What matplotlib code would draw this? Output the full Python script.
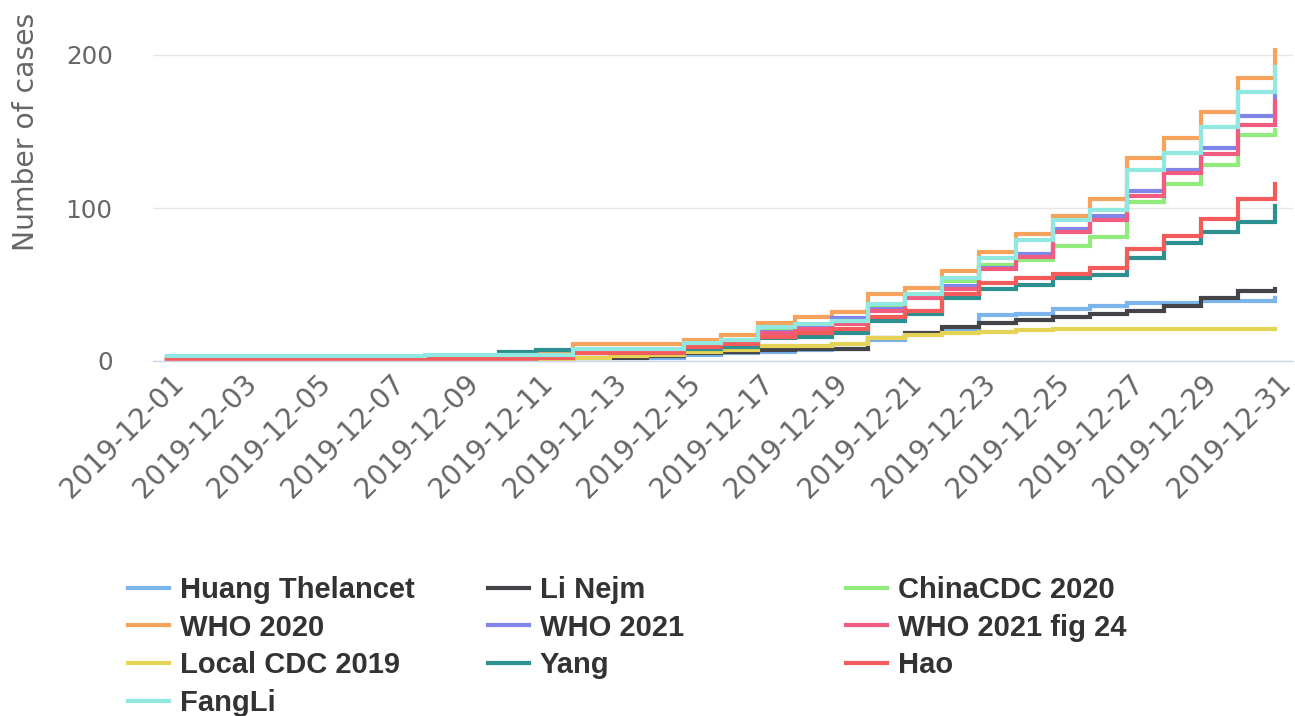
import matplotlib
matplotlib.use("Agg")
import matplotlib.pyplot as plt
import matplotlib.dates as mdates
from matplotlib.lines import Line2D
from matplotlib.transforms import ScaledTranslation
import numpy as np

# daily cumulative cases, 2019-12-01 .. 2019-12-31
days = np.arange(np.datetime64("2019-12-01"), np.datetime64("2020-01-01"))

huang_thelancet = [1, 1, 1, 1, 1, 1, 1, 1, 1, 2, 2, 2, 2, 2,
                   4, 5, 6, 7, 8, 14, 17, 21, 30, 31, 34, 36, 38, 38, 39, 39, 41]
li_nejm = [1, 1, 1, 1, 1, 1, 1, 2, 2, 2, 2, 2, 2, 3,
           5, 6, 7, 8, 8, 15, 18, 22, 25, 27, 29, 31, 33, 36, 41, 46, 47]
chinacdc_2020 = [2, 2, 2, 2, 2, 2, 2, 2, 2, 3, 3, 7, 7, 7,
                 11, 13, 21, 23, 25, 35, 43, 52, 63, 66, 75, 81, 104, 116, 128, 148, 151]
who_2020 = [2, 2, 2, 2, 2, 2, 2, 3, 3, 4, 5, 11, 11, 11,
            14, 17, 25, 29, 32, 44, 48, 59, 71, 83, 95, 106, 133, 146, 163, 185, 203]
who_2021 = [2, 2, 2, 2, 2, 2, 2, 2, 2, 3, 3, 7, 7, 7,
            10, 12, 19, 22, 28, 34, 42, 49, 61, 70, 86, 95, 111, 125, 139, 160, 174]
who_2021_fig24 = [2, 2, 2, 2, 2, 2, 2, 2, 2, 3, 3, 6, 6, 6,
                  9, 11, 18, 21, 24, 33, 41, 47, 60, 68, 84, 92, 108, 123, 135, 154, 170]
local_cdc_2019 = [1, 1, 1, 1, 1, 1, 1, 1, 1, 1, 1, 2, 3, 4,
                  6, 7, 10, 10, 11, 15, 17, 18, 19, 20, 21, 21, 21, 21, 21, 21, 21]
yang = [2, 2, 2, 2, 2, 2, 2, 2, 2, 6, 7, 7, 7, 7,
        8, 9, 15, 16, 18, 26, 31, 41, 47, 50, 54, 56, 67, 77, 84, 91, 101]
hao = [1, 1, 1, 1, 1, 1, 1, 1, 1, 1, 2, 5, 5, 5,
       9, 11, 16, 18, 21, 29, 33, 44, 51, 54, 57, 61, 73, 82, 93, 106, 116]
fangli = [3, 3, 3, 3, 3, 3, 3, 4, 4, 4, 4, 8, 8, 8,
          12, 14, 22, 24, 26, 37, 44, 54, 67, 79, 92, 99, 125, 136, 153, 176, 192]

names = ["Huang Thelancet", "Li Nejm", "ChinaCDC 2020", "WHO 2020", "WHO 2021",
         "WHO 2021 fig 24", "Local CDC 2019", "Yang", "Hao", "FangLi"]
series = [huang_thelancet, li_nejm, chinacdc_2020, who_2020, who_2021,
          who_2021_fig24, local_cdc_2019, yang, hao, fangli]
colors = ["#7cb5ec", "#434348", "#90ed7d", "#f7a35c", "#8085e9",
          "#f15c80", "#e4d354", "#2b908f", "#f45b5b", "#91e8e1"]

W, H = 1295, 716
fig = plt.figure(figsize=(W / 100, H / 100), dpi=100)
ax = fig.add_axes([153 / W, 1 - 361 / H, 1140 / W, 459 / H])

xnum = mdates.date2num(days.astype("datetime64[D]").astype(object))
for vals, c in zip(series, colors):
    ax.plot(xnum, vals, drawstyle="steps-post", color=c, lw=3, solid_joinstyle="miter")

ax.set_xlim(xnum[0] - 0.38, xnum[-1] + 0.5)
ax.set_ylim(0, 300)
ax.set_yticks([0, 100, 200])
ax.axhline(300, color="#e6e6e6", lw=1)
ax.grid(axis="y", color="#e6e6e6", lw=1)
ax.set_axisbelow(True)
for s in ["top", "right", "left"]:
    ax.spines[s].set_visible(False)
ax.spines["bottom"].set_color("#ccd6eb")
ax.spines["bottom"].set_linewidth(1)

ax.set_xticks(xnum[::2])
ax.set_xticklabels([str(d) for d in days[::2]])
ax.tick_params(axis="x", length=0, pad=13, labelsize=20, labelcolor="#666666")
ax.tick_params(axis="y", length=0, pad=29, labelsize=17.7, labelcolor="#666666")
for lab in ax.get_xticklabels():
    lab.set_rotation(45)
    lab.set_ha("right")
    lab.set_va("center")
    lab.set_rotation_mode("anchor")
    lab.set_transform(lab.get_transform() + ScaledTranslation(0.12, 0, fig.dpi_scale_trans))

ax.set_ylabel("Number of cases", fontsize=20.3, color="#666666")
ax.yaxis.set_label_coords(-0.099, 0.5)

# legend in three columns, filled row by row
col_x = [128, 488, 846]
for ci, x0 in enumerate(col_x):
    idx = list(range(ci, len(names), 3))
    handles = [Line2D([], [], color=colors[i], lw=3) for i in idx]
    fig.legend(handles, [names[i] for i in idx], loc="upper left",
               bbox_to_anchor=(x0 / W, 1 - 576 / H), frameon=False,
               prop={"family": "Liberation Sans", "weight": "bold", "size": 21},
               labelcolor="#333333", handlelength=1.4, handletextpad=0.37,
               labelspacing=0.33, borderpad=0, borderaxespad=0)

fig.savefig("out.png", dpi=100)
